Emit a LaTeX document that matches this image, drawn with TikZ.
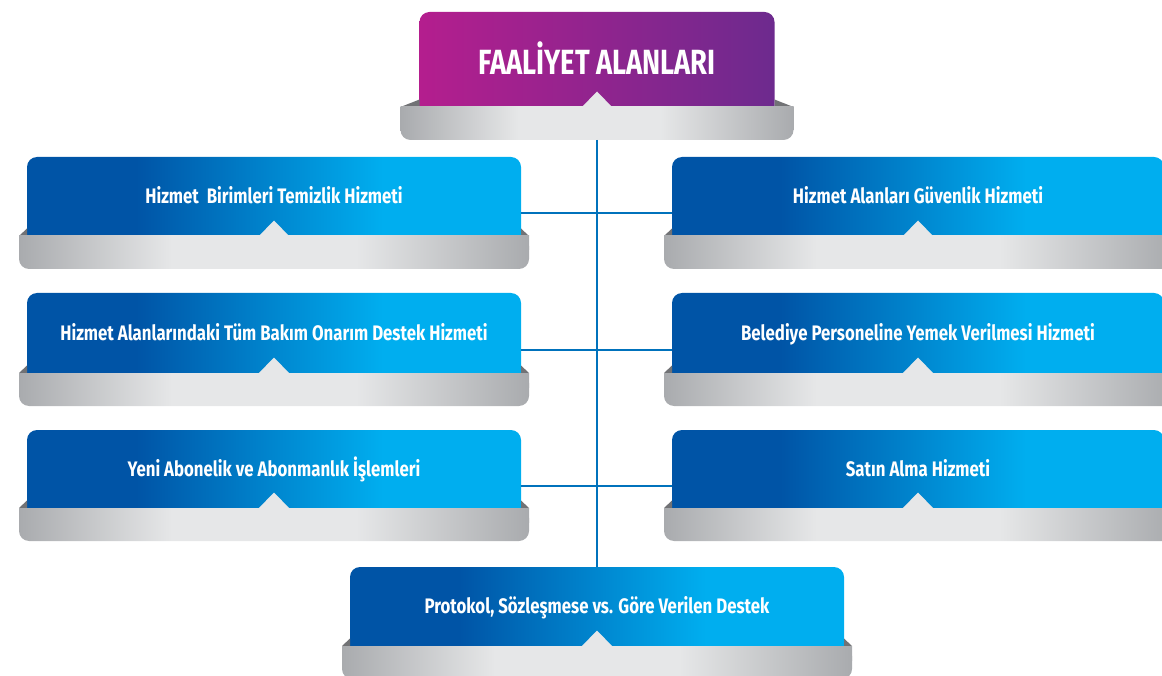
\documentclass[tikz,border=0pt]{standalone}
\usepackage{fontspec}
\usetikzlibrary{fit}
\newfontfamily\condfont{Fira Sans}[FakeStretch=0.8]
\newfontfamily\titlefont{Fira Sans}[FakeStretch=0.78]

\definecolor{bdark}{HTML}{0054A6}
\definecolor{blight}{HTML}{00AEEF}
\definecolor{mleft}{HTML}{B41E8E}
\definecolor{mright}{HTML}{6D2A8E}
\definecolor{gedge}{HTML}{A9ABAE}
\definecolor{gmid}{HTML}{E6E7E8}
\definecolor{wedgegray}{HTML}{717275}
\definecolor{linkblue}{HTML}{0072BC}

% horizontal blends: the path box spans 25bp..75bp of each shading
\pgfdeclarehorizontalshading{facebl}{100bp}{color(0bp)=(bdark); color(36bp)=(bdark); color(61bp)=(blight); color(100bp)=(blight)}
\pgfdeclarehorizontalshading{traygr}{100bp}{color(0bp)=(gedge); color(25bp)=(gedge); color(40bp)=(gmid); color(58bp)=(gmid); color(75bp)=(gedge); color(100bp)=(gedge)}

\tikzset{
  bluefacestyle/.style={shading=facebl},
  titlefacestyle/.style={left color=mleft, right color=mright},
  trayfill/.style={shading=traygr},
  wedgefill/.style={fill=wedgegray},
  notchfill/.style={fill=gmid},
  paneltext/.style={text=white, inner sep=0, anchor=center,
    text height=0.69em, text depth=0pt, yshift=-4pt,
    font=\condfont\bfseries\fontsize{21}{24}\selectfont},
  titletext/.style={paneltext, yshift=-8pt,
    font=\titlefont\bfseries\fontsize{35}{40}\selectfont},
  link/.style={draw=linkblue, line width=2pt},
}

% panel: coloured face with a grey tray below it
% #1 name, #2 centre x, #3 top y, #4 half width of face, #5 face height,
% #6 tray overhang, #7 face style, #8 text style, #9 text
\newcommand\panel[9]{%
  \pgfmathsetmacro\pL{#2-#4}%
  \pgfmathsetmacro\pR{#2+#4}%
  \pgfmathsetmacro\pB{#3+#5}%
  \pgfmathsetmacro\pT{#3+#5+33}%
  \pgfmathsetmacro\tL{\pL-#6}%
  \pgfmathsetmacro\tR{\pR+#6}%
  \shade[#7, rounded corners=10pt] (\pL,\pB+12) rectangle (\pR,#3);
  \fill[wedgefill] (\tL,\pB) -- (\pL,\pB-7.5) -- (\pL,\pB) -- cycle;
  \fill[wedgefill] (\tR,\pB) -- (\pR,\pB-7.5) -- (\pR,\pB) -- cycle;
  \shade[trayfill, rounded corners=10pt] (\tL,\pB) rectangle (\tR,\pT);
  \shade[trayfill] (\tL,\pB) rectangle (\tR,\pB+14);
  \fill[notchfill] (#2-16,\pB+1) -- (#2,\pB-15.5) -- (#2+16,\pB+1) -- cycle;
  \node[#8] (#1-label) at (#2,#3+#5/2) {#9};
  \coordinate (#1-nw) at (\pL,#3);
  \coordinate (#1-se) at (\pR,\pT);
  \node[fit=(#1-nw)(#1-se), inner sep=0pt, outer sep=0pt] (#1) {};
}

\begin{document}
\begin{tikzpicture}[x=1pt, y=-1pt]
  \useasboundingbox (0,0) rectangle (1162,676);

  \panel{top}{597}{12}{177.5}{95}{19}{titlefacestyle}{titletext}{FAALİYET ALANLARI}

  \panel{l1}{274}{157}{247}{79}{8}{bluefacestyle}{paneltext}{Hizmet\ \ Birimleri Temizlik Hizmeti}
  \panel{l2}{274}{293}{247}{80}{8}{bluefacestyle}{paneltext}{Hizmet Alanlarındaki Tüm Bakım Onarım Destek Hizmeti}
  \panel{l3}{274}{430}{247}{78}{8}{bluefacestyle}{paneltext}{Yeni Abonelik ve Abonmanlık İşlemleri}

  \panel{r1}{918}{157}{246}{79}{8}{bluefacestyle}{paneltext}{Hizmet Alanları Güvenlik Hizmeti}
  \panel{r2}{918}{293}{246}{80}{8}{bluefacestyle}{paneltext}{Belediye Personeline Yemek Verilmesi Hizmeti}
  \panel{r3}{918}{430}{246}{78}{8}{bluefacestyle}{paneltext}{Satın Alma Hizmeti}

  \panel{bot}{597}{567}{247}{79}{8}{bluefacestyle}{paneltext}{Protokol, Sözleşmese vs. Göre Verilen Destek}

  % connectors
  \draw[link] (top.south) -- (bot.north);
  \draw[link] (l1.east) -- (r1.west);
  \draw[link] (l2.east) -- (r2.west);
  \draw[link] (l3.east) -- (r3.west);
\end{tikzpicture}
\end{document}
